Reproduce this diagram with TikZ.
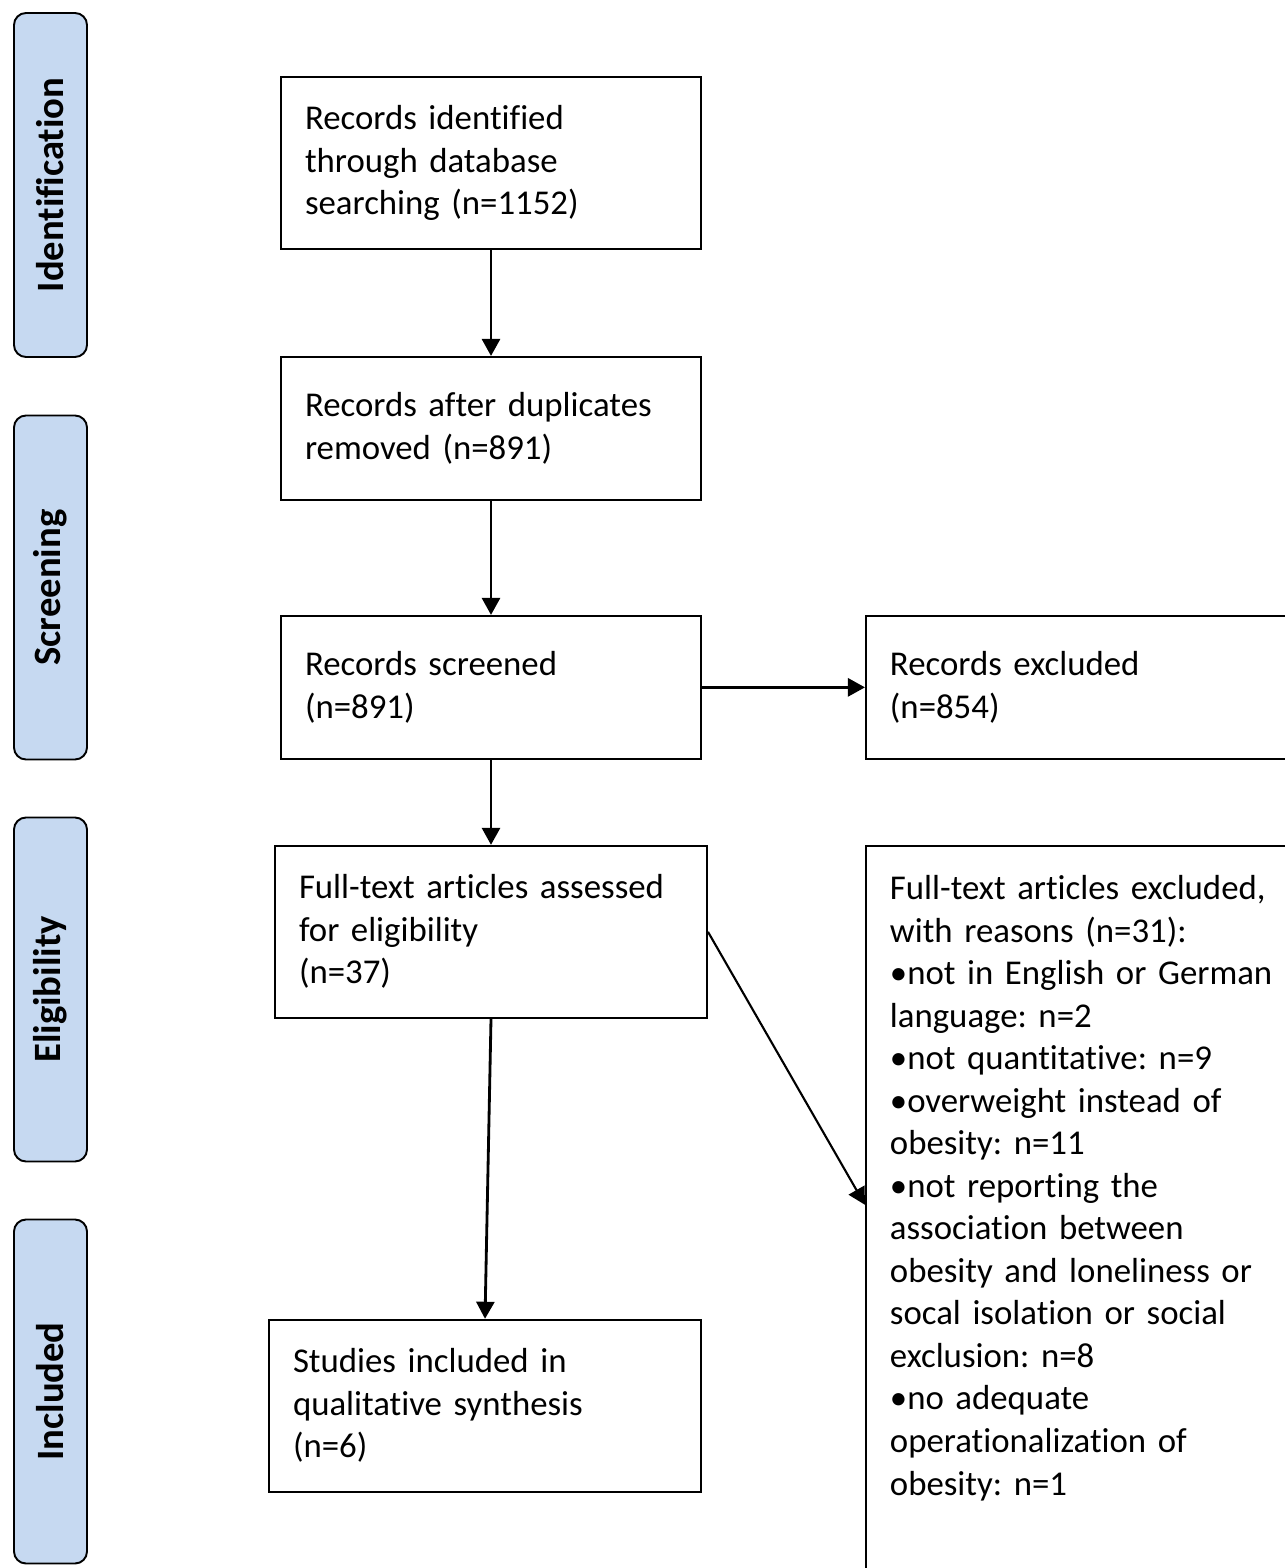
\documentclass[tikz,border=0pt]{standalone}
\usepackage{fontspec}
\setmainfont[Ligatures={NoCommon,NoRequired,NoContextual}]{Carlito}
\usetikzlibrary{arrows.meta, positioning}

\definecolor{stageblue}{RGB}{198,217,241}
\frenchspacing

\begin{document}
\begin{tikzpicture}[
    box/.style={rectangle, draw, line width=1.1pt, align=left, inner xsep=0.48cm, inner ysep=0pt, font=\fontsize{19.8}{24.2}\selectfont},
    stage/.style={rectangle, draw, line width=1.1pt, fill=stageblue, rounded corners=0.24cm, rotate=90, minimum width=6.88cm, minimum height=1.46cm, font=\bfseries\fontsize{22}{24}\selectfont},
    arrow/.style={-{Triangle[length=0.34cm, width=0.36cm]}, line width=1.6pt}
]
\useasboundingbox (0,0) rectangle (25.68,-31.36);

% phases
\node[stage] (ident) at (1.01,-3.70) {Identification};
\node[stage] (screen) at (1.01,-11.75) {Screening};
\node[stage] (elig) at (1.01,-19.79) {Eligibility};
\node[stage] (incl) at (1.01,-27.83) {Included};

% flow
\node[box, text width=7.44cm, minimum height=3.44cm] (identified) at (9.82,-3.26) {Records identified\\through database\\searching (n=1152)};
\node[box, text width=7.44cm, minimum height=2.86cm, below=2.12cm of identified] (dedup) {Records after duplicates\\removed (n=891)};
\node[box, text width=7.44cm, minimum height=2.86cm, below=2.28cm of dedup] (screened) {Records screened\\(n=891)};
\node[box, text width=7.76cm, minimum height=2.86cm, right=3.26cm of screened] (excluded) {Records excluded\\(n=854)};
\node[box, text width=7.68cm, minimum height=3.44cm, below=1.70cm of screened] (fulltext) {Full-text articles assessed\\for eligibility\\(n=37)};
\node[box, text width=7.76cm, minimum height=15.28cm, below right=0cm and 3.14cm of fulltext.north east] (reasons) {Full-text articles excluded,\\with reasons (n=31):\\•not in English or German\\language: n=2\\•not quantitative: n=9\\•overweight instead of\\obesity: n=11\\•not reporting the\\association between\\obesity and loneliness or\\socal isolation or social\\exclusion: n=8\\•no adequate\\operationalization of\\obesity: n=1\\~\\~};
\node[box, text width=7.68cm, minimum height=3.44cm, below=6.00cm of fulltext, xshift=-0.12cm] (included) {Studies included in\\qualitative synthesis\\(n=6)};

\draw[arrow] (identified) -- (dedup);
\draw[arrow] (dedup) -- (screened);
\draw[arrow] (screened) -- (excluded);
\draw[arrow] (screened) -- (fulltext);
\draw[arrow] (fulltext.south) -- (included.north);
\draw[arrow, line width=1.2pt] (fulltext.east) -- (reasons.174.5);

\end{tikzpicture}
\end{document}
